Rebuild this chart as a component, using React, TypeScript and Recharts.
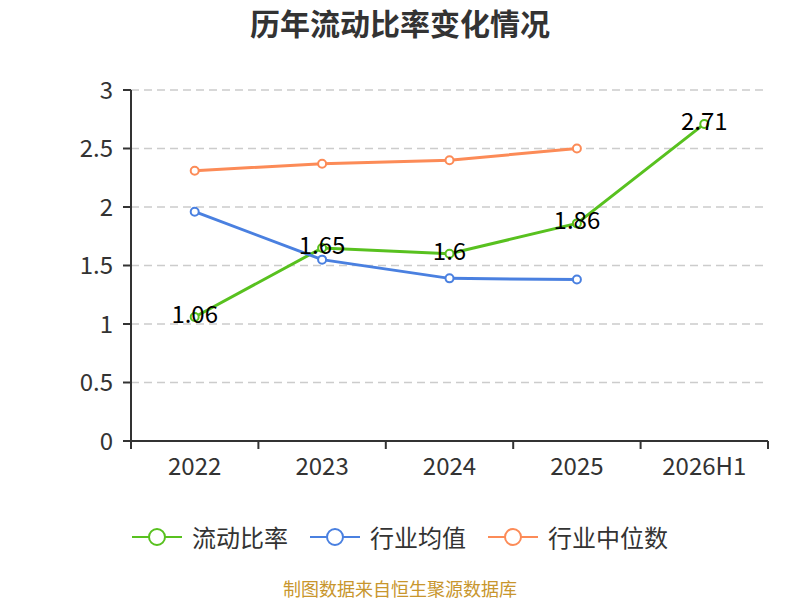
import { LineChart, Line, XAxis, YAxis, CartesianGrid, LabelList } from "recharts";

const years = ["2022", "2023", "2024", "2025", "2026H1"];
const currentRatio = [1.06, 1.65, 1.6, 1.86, 2.71];
const industryMean = [1.96, 1.55, 1.39, 1.38, null];
const industryMedian = [2.31, 2.37, 2.4, 2.5, null];
const yTicks = [0, 0.5, 1, 1.5, 2, 2.5, 3];

const series = [
  { key: "ratio", name: "流动比率", color: "#58c11f" },
  { key: "mean", name: "行业均值", color: "#4a80e0" },
  { key: "median", name: "行业中位数", color: "#fc8b57" },
];

const data = years.map((year, i) => ({
  year,
  ratio: currentRatio[i],
  mean: industryMean[i],
  median: industryMedian[i],
}));

const FONT = "'Noto Sans CJK SC', 'Noto Sans', sans-serif";
const AXIS = "#333";

function XTick(props: any) {
  const { x, y, payload, index, visibleTicksCount } = props;
  const half = payload.offset || 0;
  const axisY = y - 12;
  return (
    <g>
      <line x1={x - half} x2={x - half} y1={axisY} y2={axisY + 8} stroke={AXIS} strokeWidth={2} />
      {index === visibleTicksCount - 1 && (
        <line x1={x + half} x2={x + half} y1={axisY} y2={axisY + 8} stroke={AXIS} strokeWidth={2} />
      )}
      <text x={x} y={y} dy="0.9em" textAnchor="middle" fill={AXIS} fontSize={24} fontFamily={FONT}>
        {payload.value}
      </text>
    </g>
  );
}

function ValueLabel(props: any) {
  const { x, y, value } = props;
  if (value == null) return null;
  return (
    <text x={x} y={y + 6} textAnchor="middle" fill="#000" fontSize={24} fontFamily={FONT}>
      {value}
    </text>
  );
}

export default function App() {
  return (
    <div style={{ position: "absolute", left: 0, top: 0, width: 800, height: 600, background: "#fff", fontFamily: FONT, overflow: "hidden" }}>
      <div
        style={{
          position: "absolute",
          top: 4,
          width: 800,
          textAlign: "center",
          fontSize: 30,
          fontWeight: "bold",
          color: "#333",
          lineHeight: "36px",
        }}
      >
        历年流动比率变化情况
      </div>
      <LineChart width={800} height={600} data={data} margin={{ top: 90, right: 32, left: 0, bottom: 119 }}>
        <CartesianGrid vertical={false} stroke="#ccc" strokeDasharray="8 5" strokeWidth={1.5} />
        <XAxis
          dataKey="year"
          scale="band"
          height={40}
          tickLine={false}
          tickSize={8}
          tickMargin={4}
          axisLine={{ stroke: AXIS, strokeWidth: 2 }}
          tick={<XTick />}
          interval={0}
        />
        <YAxis
          width={131}
          domain={[0, 3]}
          ticks={yTicks}
          tickSize={8}
          tickMargin={10}
          axisLine={{ stroke: AXIS, strokeWidth: 2 }}
          tickLine={{ stroke: AXIS, strokeWidth: 2 }}
          tick={{ fill: AXIS, fontSize: 24, fontFamily: FONT }}
        />
        {series.map((s) => (
          <Line
            key={s.key}
            dataKey={s.key}
            name={s.name}
            stroke={s.color}
            strokeWidth={3}
            dot={{ r: 4, fill: "#fff", stroke: s.color, strokeWidth: 2 }}
            activeDot={false}
            isAnimationActive={false}
          />
        ))}
        <Line dataKey="ratio" stroke="none" dot={false} activeDot={false} isAnimationActive={false} legendType="none">
          <LabelList dataKey="ratio" content={<ValueLabel />} />
        </Line>
      </LineChart>
      <div
        style={{
          position: "absolute",
          top: 520,
          width: 800,
          display: "flex",
          justifyContent: "center",
          alignItems: "center",
          gap: 22,
          fontSize: 24,
          color: "#333",
          lineHeight: "34px",
        }}
      >
        {series.map((s) => (
          <div key={s.key} style={{ display: "flex", alignItems: "center" }}>
            <svg width={50} height={20} style={{ marginRight: 10 }}>
              <line x1={0} x2={50} y1={10} y2={10} stroke={s.color} strokeWidth={2} />
              <circle cx={25} cy={10} r={8} fill="#fff" stroke={s.color} strokeWidth={2} />
            </svg>
            <span>{s.name}</span>
          </div>
        ))}
      </div>
      <div
        style={{
          position: "absolute",
          top: 578,
          width: 800,
          textAlign: "center",
          fontSize: 18,
          color: "#c8962d",
          lineHeight: "21px",
        }}
      >
        制图数据来自恒生聚源数据库
      </div>
    </div>
  );
}
